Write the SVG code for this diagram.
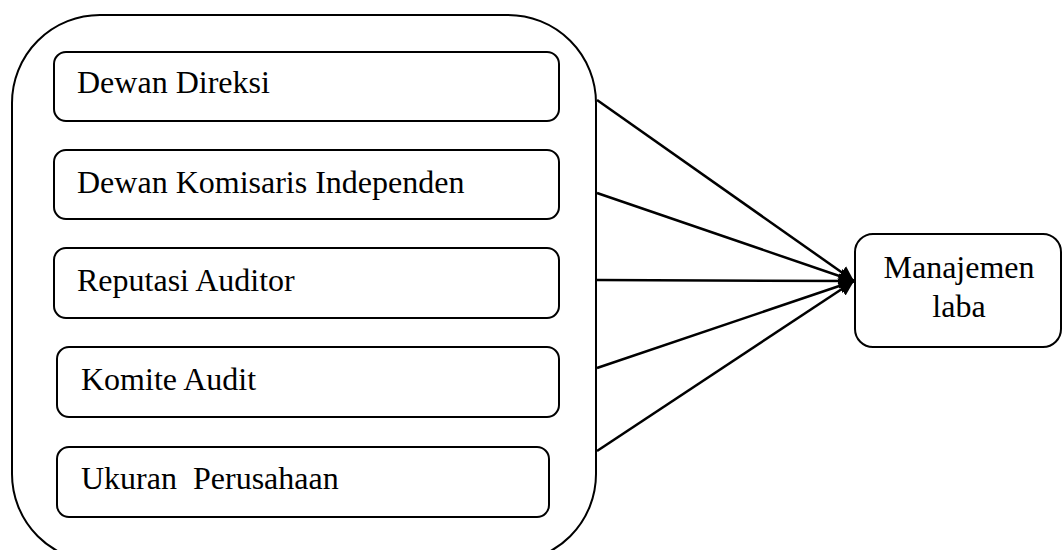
<svg xmlns="http://www.w3.org/2000/svg" width="1062" height="550" viewBox="0 0 1062 550">
<style>
  .box { fill: #fff; stroke: #000; stroke-width: 2; }
  .outer { fill: #fff; stroke: #000; stroke-width: 2; }
  .lbl { font-family: "Liberation Serif", Tinos, "Times New Roman", Times, "DejaVu Serif", serif; font-size: 32px; fill: #000; white-space: pre; }
  .conn { stroke: #000; stroke-width: 2.5; fill: none; marker-end: url(#arr); }
</style>
<defs>
  <marker id="arr" markerUnits="userSpaceOnUse" markerWidth="18" markerHeight="16" refX="15" refY="8" orient="auto">
    <path d="M0,0.5 L15,8 L0,15.5 Z" fill="#000"/>
  </marker>
</defs>
<rect width="1062" height="550" fill="#fff"/>
<g id="group-outer">
  <rect class="outer" x="12" y="15" width="584" height="547" rx="88" ry="88"/>
</g>
<g id="node-dewan-direksi">
  <rect class="box" x="54" y="52" width="505" height="69" rx="12"/>
  <text class="lbl" x="77" y="93">Dewan Direksi</text>
</g>
<g id="node-dewan-komisaris">
  <rect class="box" x="54" y="150" width="505" height="69" rx="12"/>
  <text class="lbl" x="77" y="193">Dewan Komisaris Independen</text>
</g>
<g id="node-reputasi-auditor">
  <rect class="box" x="54" y="248" width="505" height="70" rx="12"/>
  <text class="lbl" x="77" y="291">Reputasi Auditor</text>
</g>
<g id="node-komite-audit">
  <rect class="box" x="57" y="347" width="502" height="70" rx="12"/>
  <text class="lbl" x="81" y="390">Komite Audit</text>
</g>
<g id="node-ukuran-perusahaan">
  <rect class="box" x="57" y="447" width="492" height="70" rx="12"/>
  <text class="lbl" x="81" y="489" xml:space="preserve">Ukuran  Perusahaan</text>
</g>
<g id="node-manajemen-laba">
  <rect class="box" x="855" y="234" width="206" height="113" rx="18"/>
  <text class="lbl" x="959" y="278" text-anchor="middle">Manajemen</text>
  <text class="lbl" x="959" y="317" text-anchor="middle">laba</text>
</g>
<g id="connectors">
  <line class="conn" x1="597" y1="100" x2="854" y2="281"/>
  <line class="conn" x1="597" y1="193" x2="854" y2="281"/>
  <line class="conn" x1="597" y1="280" x2="854" y2="281"/>
  <line class="conn" x1="597" y1="368" x2="854" y2="281"/>
  <line class="conn" x1="597" y1="451" x2="854" y2="281"/>
</g>
</svg>
